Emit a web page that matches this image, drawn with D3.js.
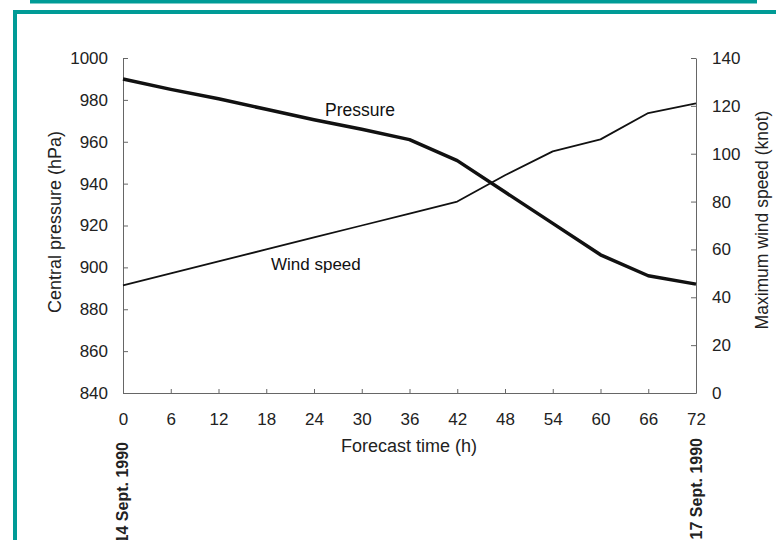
<!DOCTYPE html>
<html>
<head>
<meta charset="utf-8">
<script src="https://cdn.jsdelivr.net/npm/d3@7"></script>
<style>
  body { margin: 0; background: #fff; }
  svg { display: block; font-family: "Liberation Sans", Arial, sans-serif; }
  .axis path, .axis line { stroke: #666; stroke-width: 1; }
  .axis text { font-size: 17px; fill: #222; }
</style>
</head>
<body>
<div id="chart"></div>
<script>
// forecast hours
var hours = [0, 6, 12, 18, 24, 30, 36, 42, 48, 54, 60, 66, 72];
// central pressure (hPa)
var pressure = [990, 985, 980.5, 975.5, 970.5, 966, 961, 951, 936, 921, 906, 896, 892];
// max wind speed (knot)
var wind = [45, 50, 55, 60, 65, 70, 75, 80, 91, 101, 106, 117, 121];

var pressureTicks = [840, 860, 880, 900, 920, 940, 960, 980, 1000];
var windTicks = [0, 20, 40, 60, 80, 100, 120, 140];
var hourTicks = hours;

(function () {
  var W = 776, H = 540;
  var teal = '#009b96';

  var svg = d3.select('#chart').append('svg').attr('width', W).attr('height', H);

  // teal frame bits
  svg.append('rect').attr('x', 30).attr('y', 0).attr('width', 727).attr('height', 3.5).attr('fill', teal);
  svg.append('rect').attr('x', 13).attr('y', 10).attr('width', W - 13).attr('height', 4).attr('fill', teal);
  svg.append('rect').attr('x', 13).attr('y', 10).attr('width', 4).attr('height', H - 10).attr('fill', teal);

  var plot = { left: 123, right: 696, top: 58, bottom: 393 };

  var x = d3.scaleLinear().domain([0, 72]).range([plot.left, plot.right]);
  var yP = d3.scaleLinear().domain([840, 1000]).range([plot.bottom, plot.top]);
  var yW = d3.scaleLinear().domain([0, 140]).range([plot.bottom, plot.top]);
  var fmt = d3.format('d');

  svg.append('g').attr('class', 'axis').attr('transform', 'translate(' + plot.left + ',0)')
    .call(d3.axisLeft(yP).tickValues(pressureTicks).tickFormat(fmt).tickSizeInner(-5).tickSizeOuter(0).tickPadding(15));
  svg.append('g').attr('class', 'axis').attr('transform', 'translate(' + plot.right + ',0)')
    .call(d3.axisRight(yW).tickValues(windTicks).tickFormat(fmt).tickSizeInner(-5).tickSizeOuter(0).tickPadding(16));
  var gBottom = svg.append('g').attr('class', 'axis').attr('transform', 'translate(0,' + plot.bottom + ')')
    .call(d3.axisBottom(x).tickValues(hourTicks).tickFormat(fmt).tickSizeInner(-4).tickSizeOuter(0).tickPadding(20));

  // corner ticks on the time axis would sit on the side axes
  gBottom.selectAll('.tick line').filter(function (d) { return d === 0 || d === 72; }).remove();

  var pLine = d3.line().x(function (d, i) { return x(hours[i]); }).y(function (d) { return yP(d); });
  var wLine = d3.line().x(function (d, i) { return x(hours[i]); }).y(function (d) { return yW(d); });

  svg.append('path').datum(pressure).attr('d', pLine)
    .attr('fill', 'none').attr('stroke', '#111').attr('stroke-width', 3.5).attr('stroke-linejoin', 'round');
  svg.append('path').datum(wind).attr('d', wLine)
    .attr('fill', 'none').attr('stroke', '#111').attr('stroke-width', 1.8).attr('stroke-linejoin', 'round');

  // line labels
  svg.append('text').attr('x', 325).attr('y', 116).attr('font-size', 17.5).attr('fill', '#111').text('Pressure');
  svg.append('text').attr('x', 271).attr('y', 270).attr('font-size', 17).attr('fill', '#111').text('Wind speed');

  // axis titles
  svg.append('text').attr('transform', 'translate(61,222) rotate(-90)').attr('text-anchor', 'middle')
    .attr('font-size', 18).attr('fill', '#222').text('Central pressure (hPa)');
  svg.append('text').attr('transform', 'translate(768,220) rotate(-90)').attr('text-anchor', 'middle')
    .attr('font-size', 17.5).attr('fill', '#222').text('Maximum wind speed (knot)');
  svg.append('text').attr('x', 409).attr('y', 452).attr('text-anchor', 'middle')
    .attr('font-size', 18).attr('fill', '#222').text('Forecast time (h)');

  // dates under the ends of the time axis
  svg.append('text').attr('transform', 'translate(' + (x(0) + 5) + ',442) rotate(-90)').attr('text-anchor', 'end')
    .attr('font-size', 16).attr('font-weight', 'bold').attr('fill', '#222').text('14 Sept. 1990');
  svg.append('text').attr('transform', 'translate(' + (x(72) + 6) + ',438) rotate(-90)').attr('text-anchor', 'end')
    .attr('font-size', 16).attr('font-weight', 'bold').attr('fill', '#222').text('17 Sept. 1990');
})();
</script>
</body>
</html>
